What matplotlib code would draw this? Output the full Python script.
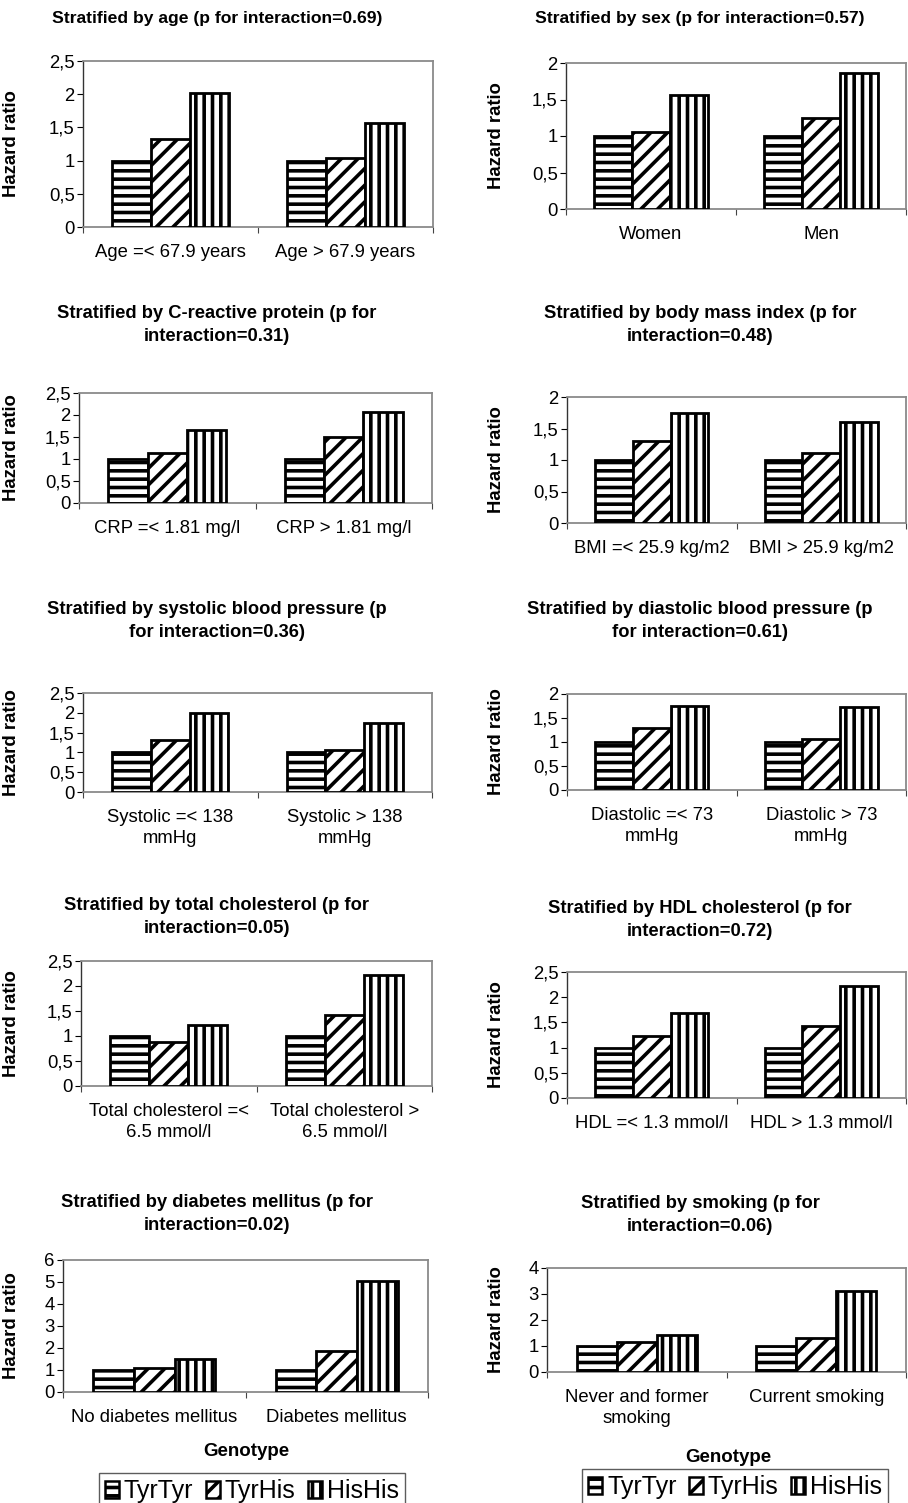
import numpy as np
import matplotlib
matplotlib.use('Agg')
import matplotlib.pyplot as plt
from matplotlib.patches import Patch
from matplotlib.ticker import FuncFormatter
from matplotlib.transforms import blended_transform_factory

plt.rcParams['font.family'] = ['Liberation Sans', 'DejaVu Sans']
plt.rcParams['hatch.linewidth'] = 2.6
plt.rcParams['hatch.color'] = 'black'

genotypes = ['TyrTyr', 'TyrHis', 'HisHis']
hatches = ['--', '//', '||']

# hazard ratios, one row per stratum: TyrTyr, TyrHis, HisHis
age_hr = [[1.0, 1.32, 2.02], [1.0, 1.04, 1.56]]
sex_hr = [[1.0, 1.05, 1.56], [1.0, 1.24, 1.86]]
crp_hr = [[1.0, 1.13, 1.66], [1.0, 1.49, 2.06]]
bmi_hr = [[1.0, 1.30, 1.75], [1.0, 1.11, 1.60]]
sbp_hr = [[1.0, 1.31, 2.0], [1.0, 1.07, 1.73]]
dbp_hr = [[1.0, 1.30, 1.74], [1.0, 1.06, 1.72]]
tc_hr = [[1.0, 0.88, 1.23], [1.0, 1.43, 2.23]]
hdl_hr = [[1.0, 1.24, 1.68], [1.0, 1.43, 2.22]]
dm_hr = [[1.0, 1.10, 1.48], [1.0, 1.85, 5.05]]
smk_hr = [[1.0, 1.14, 1.42], [1.0, 1.32, 3.10]]

age_groups = ['Age =< 67.9 years', 'Age > 67.9 years']
sex_groups = ['Women', 'Men']
crp_groups = ['CRP =< 1.81 mg/l', 'CRP > 1.81 mg/l']
bmi_groups = ['BMI =< 25.9 kg/m2', 'BMI > 25.9 kg/m2']
sbp_groups = ['Systolic =< 138\nmmHg', 'Systolic > 138\nmmHg']
dbp_groups = ['Diastolic =< 73\nmmHg', 'Diastolic > 73\nmmHg']
tc_groups = ['Total cholesterol =<\n6.5 mmol/l', 'Total cholesterol >\n6.5 mmol/l']
hdl_groups = ['HDL =< 1.3 mmol/l', 'HDL > 1.3 mmol/l']
dm_groups = ['No diabetes mellitus', 'Diabetes mellitus']
smk_groups = ['Never and former\nsmoking', 'Current smoking']

titles = [
    'Stratified by age (p for interaction=0.69)',
    'Stratified by sex (p for interaction=0.57)',
    'Stratified by C-reactive protein (p for\ninteraction=0.31)',
    'Stratified by body mass index (p for\ninteraction=0.48)',
    'Stratified by systolic blood pressure (p\nfor interaction=0.36)',
    'Stratified by diastolic blood pressure (p\nfor interaction=0.61)',
    'Stratified by total cholesterol (p for\ninteraction=0.05)',
    'Stratified by HDL cholesterol (p for\ninteraction=0.72)',
    'Stratified by diabetes mellitus (p for\ninteraction=0.02)',
    'Stratified by smoking (p for\ninteraction=0.06)',
]

W, H = 908, 1503
fig = plt.figure(figsize=(W / 100, H / 100), dpi=100)

# (values, groups, ymax, ystep, box px: left, right, top, bottom, title y px)
panels = [
    (age_hr, age_groups, 2.5, 0.5, (83, 433, 61, 227), 18),
    (sex_hr, sex_groups, 2.0, 0.5, (566, 906, 63, 209), 18),
    (crp_hr, crp_groups, 2.5, 0.5, (79, 432, 393, 503), 325),
    (bmi_hr, bmi_groups, 2.0, 0.5, (567, 906, 397, 523), 325),
    (sbp_hr, sbp_groups, 2.5, 0.5, (83, 432, 693, 792), 621),
    (dbp_hr, dbp_groups, 2.0, 0.5, (567, 906, 694, 790), 621),
    (tc_hr, tc_groups, 2.5, 0.5, (81, 432, 961, 1086), 917),
    (hdl_hr, hdl_groups, 2.5, 0.5, (567, 906, 972, 1098), 920),
    (dm_hr, dm_groups, 6, 1, (63, 428, 1260, 1392), 1214),
    (smk_hr, smk_groups, 4, 1, (547, 906, 1268, 1372), 1215),
]

fmt = FuncFormatter(lambda v, p: ('%g' % v).replace('.', ','))
bw = 1 / 4.5

for i, (vals, groups, ymax, ystep, box, ty) in enumerate(panels):
    l, r, t, b = box
    ax = fig.add_axes([l / W, 1 - b / H, (r - l) / W, (b - t) / H])
    vals = np.array(vals)
    x = np.arange(len(groups))
    for k in range(3):
        ax.bar(x + (k - 1) * bw, vals[:, k], width=bw, facecolor='white',
               edgecolor='black', linewidth=2.0, hatch=hatches[k], zorder=3)
    ax.set_xlim(-0.5, 1.5)
    ax.set_ylim(0, ymax)
    ax.set_yticks(np.arange(0, ymax + ystep / 2, ystep))
    ax.yaxis.set_major_formatter(fmt)
    ax.set_xticks([-0.5, 0.5, 1.5])
    ax.set_xticklabels([])
    ax.set_xticks(x, minor=True)
    ax.set_xticklabels(groups, minor=True, fontsize=13.3, linespacing=1.35)
    ax.tick_params(axis='x', which='minor', length=0, pad=12)
    ax.tick_params(axis='x', which='major', length=4, color='#444444')
    ax.tick_params(axis='y', labelsize=13.3, length=4, pad=2)
    for s in ['top', 'right', 'bottom']:
        ax.spines[s].set_color('#8a8a8a')
        ax.spines[s].set_linewidth(1.3)
    ax.spines['left'].set_color('#333333')
    ax.spines['left'].set_linewidth(1.0)
    ax.set_ylabel('Hazard ratio', fontsize=13.3, fontweight='bold')
    lx = 20 if l < 450 else 505
    ax.yaxis.set_label_coords(lx / W, 0.5,
                              transform=blended_transform_factory(fig.transFigure, ax.transAxes))
    cx = 217 if l < 450 else 700
    fs = 12.6 if i < 2 else 13.2
    fig.text(cx / W, 1 - ty / H, titles[i], ha='center', va='center',
             fontsize=fs, fontweight='bold', linespacing=1.45)

handles = [Patch(facecolor='white', edgecolor='black', linewidth=1.8, hatch=h)
           for h in hatches]
for gx, gy, lgx, lgy in [(246, 1452, 252, 1473), (728, 1457, 735, 1469)]:
    fig.text(gx / W, 1 - gy / H, 'Genotype', ha='center', va='center',
             fontsize=13.5, fontweight='bold')
    fig.legend(handles, genotypes, loc='upper center', ncol=3,
               bbox_to_anchor=(lgx / W, 1 - lgy / H), fontsize=18,
               frameon=True, fancybox=False, edgecolor='#333333',
               handlelength=0.55, handleheight=0.7, handletextpad=0.2,
               columnspacing=0.5, borderpad=0.25, borderaxespad=0)

fig.savefig('out.png', dpi=100)
